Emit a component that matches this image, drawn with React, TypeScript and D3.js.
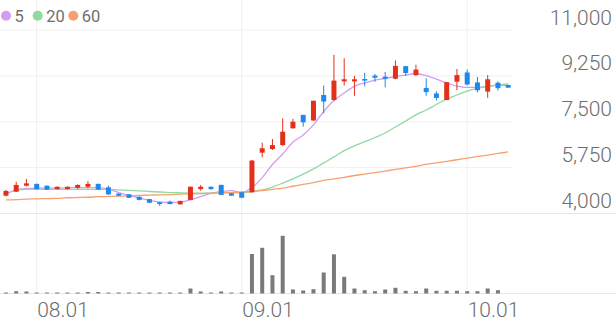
import React from "react";
import * as d3 from "d3";

// ---- data ----
const opens = [4680, 4830, 5060, 5130, 5060, 4930, 4930, 4980, 5020, 5130, 5000, 4760, 4730, 4640, 4550, 4430, 4450, 4350, 4520, 4930, 5020, 5090, 4770, 4810, 4810, 6320, 6460, 6610, 7250, 7760, 7550, 8520, 8330, 9040, 9040, 9130, 9260, 9220, 9140, 9620, 9280, 8790, 8580, 8330, 9030, 9380, 9000, 8650, 8990, 8900];
const highs = [4900, 5210, 5320, 5140, 5070, 5030, 5030, 5110, 5240, 5140, 5060, 4770, 4740, 4650, 4560, 4440, 4490, 4490, 5030, 5090, 5030, 5100, 4780, 4820, 6040, 6700, 6840, 7630, 7610, 7770, 8310, 8880, 10050, 9920, 9250, 9370, 9320, 9400, 9840, 9630, 9680, 9160, 8660, 9020, 9510, 9490, 9210, 9280, 9040, 8910];
const lows = [4650, 4820, 5030, 4920, 4900, 4920, 4920, 4930, 4960, 4900, 4710, 4670, 4590, 4500, 4400, 4290, 4350, 4340, 4510, 4870, 4900, 4700, 4670, 4590, 4800, 6140, 6420, 6580, 7240, 7310, 7530, 7820, 8300, 8880, 8490, 8850, 9020, 8810, 9120, 9250, 9250, 8490, 8310, 8320, 8710, 8890, 8620, 8410, 8690, 8790];
const closes = [4860, 5090, 5150, 4930, 4910, 5020, 5020, 5090, 5130, 4910, 4730, 4680, 4600, 4520, 4410, 4360, 4360, 4480, 5020, 5020, 4930, 4710, 4680, 4600, 6020, 6490, 6610, 7120, 7500, 7480, 8300, 8270, 9070, 9120, 9120, 9070, 9180, 9140, 9630, 9360, 9490, 8630, 8410, 9010, 9280, 8920, 8700, 9120, 8780, 8800];
const volumes = [50, 115, 100, 50, 50, 50, 50, 50, 75, 75, 50, 50, 50, 50, 50, 50, 50, 50, 250, 100, 50, 100, 50, 50, 1975, 2285, 915, 2885, 200, 150, 215, 1050, 1960, 835, 250, 165, 115, 200, 285, 135, 115, 250, 135, 135, 135, 115, 115, 250, 165, 0];
const ma5 = [4740, 4900, 4950, 4970, 4970, 4970, 4980, 4990, 4990, 4990, 4930, 4800, 4690, 4590, 4500, 4440, 4420, 4440, 4520, 4640, 4770, 4830, 4870, 4800, 4990, 5370, 5870, 6270, 6730, 6990, 7380, 7890, 8310, 8600, 8850, 8980, 9090, 9150, 9230, 9280, 9340, 9260, 9130, 8980, 8860, 8810, 8810, 8850, 8900, 8880];
const ma20 = [null, 4900, 4920, 4920, 4920, 4920, 4920, 4920, 4920, 4920, 4920, 4900, 4880, 4860, 4840, 4820, 4800, 4790, 4780, 4780, 4780, 4790, 4790, 4800, 4840, 4900, 5010, 5160, 5320, 5500, 5700, 5930, 6160, 6400, 6580, 6740, 6900, 7070, 7300, 7530, 7760, 7950, 8160, 8370, 8520, 8670, 8770, 8850, 8900, 8940];
const ma60 = [4520, 4530, 4550, 4560, 4570, 4580, 4600, 4610, 4620, 4640, 4650, 4660, 4670, 4690, 4700, 4710, 4720, 4740, 4750, 4760, 4780, 4790, 4800, 4820, 4840, 4870, 4920, 4970, 5040, 5110, 5180, 5260, 5320, 5380, 5450, 5500, 5560, 5620, 5680, 5740, 5800, 5870, 5930, 5990, 6050, 6110, 6170, 6230, 6290, 6350];
const priceTicks = [4000, 5750, 7500, 9250, 11000];
const dateTickLabels = ["08.01", "09.01", "10.01"];
const dateTickIndex = [3, 23, 45];
const maLabels = ["5", "20", "60"];
const maColors = ["#d49cf0", "#8fd9a2", "#f7a172"];

const W = 616;
const H = 321;
const UP = "#e3301a";
const DOWN = "#1f88ee";
const GRID = "#efefef";
const TEXT = "#6e6e6e";

export default function App() {
  const idx = d3.range(closes.length);
  const x = d3.scaleBand<number>().domain(idx).range([0.825, 513.325]).padding(0);
  const cx = (i: number) => (x(i) as number) + x.bandwidth() / 2;
  const y = d3.scaleLinear().domain([4000, 11000]).range([213.5, 30]);
  const yv = d3.scaleLinear().domain([0, 3000]).range([293.5, 233.5]);
  const fmt = d3.format(",");

  const mkLine = (arr: (number | null)[]) =>
    d3
      .line<number>()
      .defined((i) => arr[i] != null)
      .x((i) => cx(i))
      .y((i) => y(arr[i] as number))
      .curve(d3.curveMonotoneX)(idx) || "";

  const mas = [ma5, ma20, ma60];
  const bodyW = 5;
  const volW = 4;

  return (
    <svg
      width={W}
      height={H}
      style={{ position: "absolute", left: 0, top: 0, background: "#fff" }}
      fontFamily="Roboto, 'Noto Sans', sans-serif"
    >
      {/* vertical grid */}
      {dateTickIndex.map((i) => (
        <line key={"vg" + i} x1={cx(i)} x2={cx(i)} y1={0} y2={293.5} stroke={GRID} strokeWidth={1} />
      ))}
      {/* horizontal grid */}
      {priceTicks.map((t) => (
        <line
          key={"hg" + t}
          x1={0}
          x2={t === 4000 ? W : 513}
          y1={y(t)}
          y2={y(t)}
          stroke={t === 4000 ? "#e6e6e6" : GRID}
          strokeWidth={1}
        />
      ))}
      {/* volume baseline */}
      <line x1={0} x2={W} y1={yv(0)} y2={yv(0)} stroke="#e6e6e6" strokeWidth={1.2} />

      {/* moving averages */}
      {mas.map((m, k) => (
        <path key={"ma" + k} d={mkLine(m)} fill="none" stroke={maColors[k]} strokeWidth={1.3} />
      ))}

      {/* candles */}
      {idx.map((i) => {
        const up = closes[i] >= opens[i];
        const c = up ? UP : DOWN;
        const top = y(Math.max(opens[i], closes[i]));
        const bot = y(Math.min(opens[i], closes[i]));
        return (
          <g key={"c" + i}>
            <line x1={cx(i)} x2={cx(i)} y1={y(highs[i])} y2={y(lows[i])} stroke={c} strokeWidth={1} />
            <rect x={cx(i) - bodyW / 2} y={top} width={bodyW} height={Math.max(1.5, bot - top)} fill={c} />
          </g>
        );
      })}

      {/* volume */}
      {idx.map((i) =>
        volumes[i] > 0 ? (
          <rect
            key={"v" + i}
            x={cx(i) - volW / 2}
            y={Math.min(yv(volumes[i]), yv(0) - 1)}
            width={volW}
            height={Math.max(1, yv(0) - yv(volumes[i]))}
            fill="#7a7a7a"
          />
        ) : null
      )}

      {/* y labels */}
      {priceTicks.map((t) => (
        <text key={"yl" + t} x={612} y={y(t) - 5.5} textAnchor="end" fontSize={21} fill={TEXT} fontWeight={300}>
          {fmt(t)}
        </text>
      ))}

      {/* x labels */}
      {dateTickIndex.map((i, k) => (
        <text key={"xl" + i} x={cx(i) + 0.5} y={316.5} fontSize={21} fill={TEXT} fontWeight={300}>
          {dateTickLabels[k]}
        </text>
      ))}

      {/* legend */}
      {maLabels.map((lab, k) => {
        const ox = [6, 37.7, 73.3][k];
        return (
          <g key={"lg" + k}>
            <circle cx={ox} cy={15.7} r={5} fill={maColors[k]} />
            <text x={ox + 8.5} y={21.5} fontSize={16.5} fill={TEXT}>
              {lab}
            </text>
          </g>
        );
      })}
    </svg>
  );
}
